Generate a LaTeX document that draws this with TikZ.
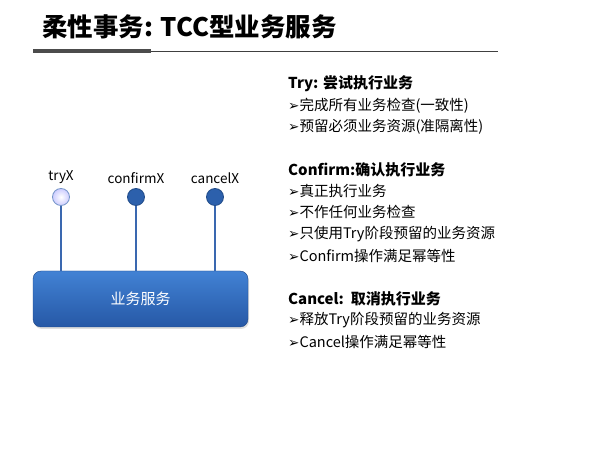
\documentclass[tikz,border=0pt]{standalone}
\usepackage{fontspec}
\setmainfont{Noto Sans CJK SC}
\newfontfamily\symfont{DejaVu Sans}
\usetikzlibrary{positioning,shadows}
\definecolor{lineblue}{RGB}{58,104,176}
\definecolor{dotblue}{RGB}{44,96,172}
\definecolor{boxtop}{RGB}{66,130,212}
\definecolor{boxbot}{RGB}{38,88,166}
\tikzset{
  head/.style={font=\fontsize{15}{18}\selectfont\bfseries, anchor=west, inner sep=0pt},
  item/.style={font=\fontsize{14.5}{18}\selectfont, anchor=west, inner sep=0pt},
  portlabel/.style={font=\fontsize{13.5}{15}\selectfont},
  port/.style={circle, minimum size=17pt, inner sep=0pt, draw=dotblue!80!black, fill=dotblue, line width=0.8pt},
  port0/.style={circle, minimum size=17pt, inner sep=0pt, draw=lineblue!70, inner color=white, outer color=blue!20, line width=0.8pt},
  link/.style={lineblue, line width=1.8pt}
}
\newcommand{\mk}{{\symfont\fontsize{13.5}{14}\selectfont ➢}}
\begin{document}
\begin{tikzpicture}[x=1pt,y=1pt]
\useasboundingbox[fill=white] (0,0) rectangle (600,450);
% title
\node[anchor=west, inner sep=0pt, font=\fontsize{25.5}{30}\selectfont\bfseries] (title) at (42,423) {柔性事务: TCC型业务服务};
\coordinate (ulA) at (33,399);
\coordinate (ulB) at (151,399);
\coordinate (ulC) at (498,399);
\draw[black!70, line width=4pt] (ulA) -- (ulB);
\draw[black!75, line width=0.9pt] (ulB) -- (ulC);
% service box
\node[rounded corners=8pt, minimum width=215pt, minimum height=56pt, top color=boxtop, bottom color=boxbot, draw=boxbot!80!black, line width=0.4pt, drop shadow={opacity=0.25, shadow xshift=1pt, shadow yshift=-2pt}, text=white, font=\fontsize{15}{16}\selectfont] (svc) at (140.5,151) {业务服务};
% ports
\node[port0] (tryX) at (61,253) {};
\node[port] (confirmX) at (136,253) {};
\node[port] (cancelX) at (215,253) {};
\node[portlabel, above=1pt of tryX] (ltry) {tryX};
\node[portlabel, above=1pt of confirmX] (lconfirm) {confirmX};
\node[portlabel, above=1pt of cancelX] (lcancel) {cancelX};
\draw[link] (tryX.south) -- (tryX.south |- svc.north);
\draw[link] (confirmX.south) -- (confirmX.south |- svc.north);
\draw[link] (cancelX.south) -- (cancelX.south |- svc.north);
% description
\node[head] (t0) at (288,366) {Try: 尝试执行业务};
\node[item] (t1) at (288,344) {\mk 完成所有业务检查(一致性)};
\node[item] (t2) at (288,323) {\mk 预留必须业务资源(准隔离性)};
\node[head] (c0) at (288,280) {Confirm:确认执行业务};
\node[item] (c1) at (288,259) {\mk 真正执行业务};
\node[item] (c2) at (288,238) {\mk 不作任何业务检查};
\node[item] (c3) at (288,216) {\mk 只使用Try阶段预留的业务资源};
\node[item] (c4) at (288,194) {\mk Confirm操作满足幂等性};
\node[head] (x0) at (288,151) {Cancel:\ \ 取消执行业务};
\node[item] (x1) at (288,130) {\mk 释放Try阶段预留的业务资源};
\node[item] (x2) at (288,108) {\mk Cancel操作满足幂等性};
\end{tikzpicture}
\end{document}
